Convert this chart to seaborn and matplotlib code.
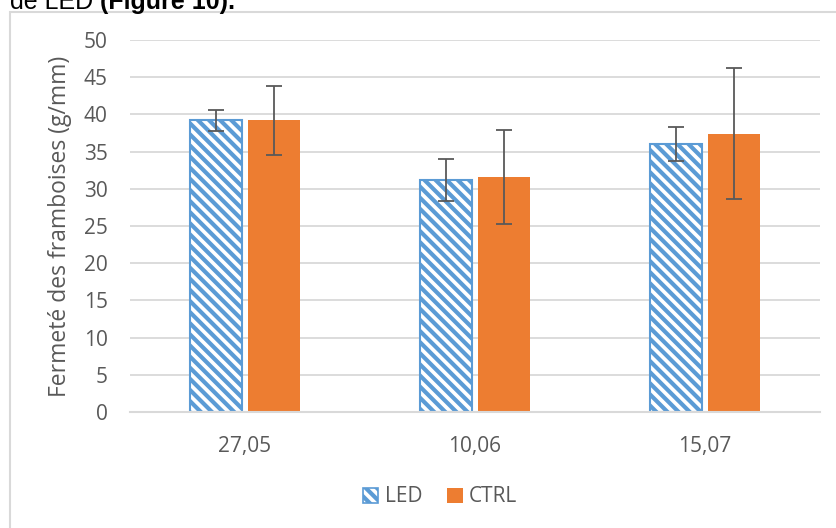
import pandas as pd
import matplotlib
matplotlib.use("Agg")
import matplotlib.pyplot as plt
import seaborn as sns
from matplotlib.patches import Patch, Rectangle

dates = ["27,05", "10,06", "15,07"]
led_vals = [39.2, 31.2, 36.0]
ctrl_vals = [39.2, 31.6, 37.4]
led_err = [1.4, 2.85, 2.3]
ctrl_err = [4.65, 6.3, 8.8]

sns.set_theme(style="white")
plt.rcParams["font.family"] = ["Open Sans", "DejaVu Sans"]
plt.rcParams["hatch.linewidth"] = 3.0

blue = "#5B9BD5"
orange = "#ED7D31"
grey_txt = "#595959"
grid_c = "#D9D9D9"

df = pd.DataFrame({
    "date": dates * 2,
    "val": led_vals + ctrl_vals,
    "trt": ["LED"] * 3 + ["CTRL"] * 3,
})

fig = plt.figure(figsize=(8.36, 5.28), dpi=100)
ax = fig.add_axes([130 / 836, 1 - 412 / 528, 690 / 836, 372 / 528])

sns.barplot(data=df, x="date", y="val", hue="trt", palette=[blue, orange],
            saturation=1, width=0.51, gap=0.11, errorbar=None, ax=ax, legend=False)

for p in ax.containers[0]:
    p.set_facecolor("white")
    p.set_edgecolor(blue)
    p.set_hatch("\\\\\\")
    p.set_linewidth(1.5)
for p in ax.containers[1]:
    p.set_edgecolor("none")

for cont, errs in zip(ax.containers, [led_err, ctrl_err]):
    xs = [p.get_x() + p.get_width() / 2 for p in cont]
    ys = [p.get_height() for p in cont]
    ax.errorbar(xs, ys, yerr=errs, fmt="none", ecolor=grey_txt,
                elinewidth=1.3, capsize=6, capthick=1.3, zorder=5)

ax.set_xlim(-0.5, 2.5)
ax.set_ylim(0, 50)
ax.set_yticks(range(0, 51, 5))
ax.set_axisbelow(True)
ax.yaxis.grid(True, color=grid_c, linewidth=1.3)
for s in ["top", "right", "left"]:
    ax.spines[s].set_visible(False)
ax.spines["bottom"].set_color(grid_c)
ax.spines["bottom"].set_linewidth(1.5)

ax.set_xticks([-0.5, 0.5, 1.5, 2.5], minor=True)
ax.tick_params(axis="x", which="minor", length=5, width=1.5, color=grid_c, direction="out")
ax.tick_params(axis="x", which="major", length=0, pad=17, labelsize=15, labelcolor=grey_txt)
ax.tick_params(axis="y", length=0, pad=16, labelsize=15, labelcolor=grey_txt)

ax.set_xlabel("")
ax.set_ylabel("Fermeté des framboises (g/mm)", fontsize=16.5, color=grey_txt)
ax.yaxis.set_label_coords(-0.084, 0.5)

handles = [Patch(facecolor="white", edgecolor=blue, hatch="\\\\\\", linewidth=1.2, label="LED"),
           Patch(facecolor=orange, edgecolor="none", label="CTRL")]
fig.legend(handles=handles, loc="center", bbox_to_anchor=(440 / 836, 1 - 497 / 528),
           ncol=2, frameon=False, fontsize=15, handlelength=0.75, handleheight=0.75,
           handletextpad=0.3, columnspacing=1.2, labelcolor=grey_txt)

# chart frame and clipped document text above it
fig.patches.append(Rectangle((10 / 836, -0.1), 1.1, 1 - 12 / 528 + 0.1,
                             transform=fig.transFigure, fill=False,
                             edgecolor=grid_c, linewidth=1.5, clip_on=False))
fig.text(93 / 836, 1 - 9 / 528, "de LED", ha="right", va="baseline",
         fontsize=18, family="Liberation Sans", color="black")
fig.text(100 / 836, 1 - 9 / 528, "(Figure 10).", ha="left", va="baseline",
         fontsize=18, family="Liberation Sans", fontweight="bold", color="black")

fig.savefig("out.png", dpi=100)
